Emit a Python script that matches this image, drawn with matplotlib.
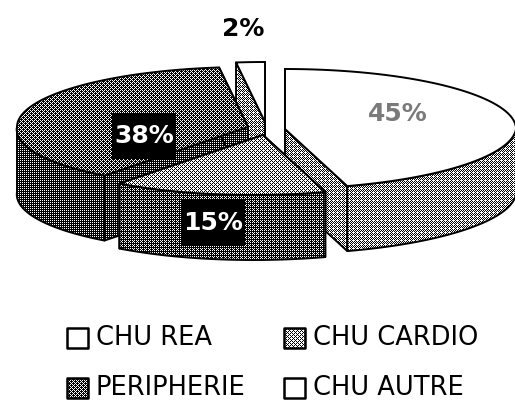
import numpy as np
import matplotlib
matplotlib.use("Agg")
import matplotlib.pyplot as plt
from matplotlib.patches import Polygon, Rectangle

labels = ["CHU REA", "CHU CARDIO", "PERIPHERIE", "CHU AUTRE"]
values = [45, 15, 38, 2]

RX, RY, DEPTH = 231, 60, 65
SKEW = 0.16  # la perspective tire l'avant de la tarte vers la gauche
# sommet de chaque part, en pixels (parts eclatees)
apex = {"CHU REA": (285, 129), "CHU CARDIO": (263, 135),
        "PERIPHERIE": (248, 127), "CHU AUTRE": (265, 122)}
top_grey = {"CHU REA": 1.0, "CHU CARDIO": 0.6, "PERIPHERIE": 0.35, "CHU AUTRE": 1.0}
side_grey = {"CHU REA": 0.55, "CHU CARDIO": 0.33, "PERIPHERIE": 0.28, "CHU AUTRE": 0.55}
label_pos = {"CHU REA": (398, 114), "CHU CARDIO": (213, 223),
             "PERIPHERIE": (144, 136), "CHU AUTRE": (243, 29)}
W, H = 515, 401

bayer = np.array([[0, 8, 2, 10], [12, 4, 14, 6], [3, 11, 1, 9], [15, 7, 13, 5]]) / 16 + 1 / 32
yy, xx = np.indices((H, W))
thresh = bayer[yy % 4, xx % 4]

fig = plt.figure(figsize=(W / 100, H / 100), dpi=100)
ax = fig.add_axes([0, 0, 1, 1])
ax.axis("off")

z = [1]


def fill(points, grey, lw=1.4):
    # polygone trame (dither) + contour noir
    z[0] += 2
    if grey < 1:
        under = Polygon(points, closed=True, fc="none", ec="none")
        ax.add_patch(under)
        im = ax.imshow((thresh < grey).astype(float), cmap="gray", vmin=0, vmax=1, extent=(0, W, H, 0),
                       interpolation="nearest", zorder=z[0], aspect="auto")
        im.set_clip_path(under)
    else:
        ax.add_patch(Polygon(points, closed=True, fc="white", ec="none", zorder=z[0]))
    ax.add_patch(Polygon(points, closed=True, fc="none", ec="black", lw=lw, zorder=z[0] + 1, joinstyle="round"))


def ellipse(cx, cy, t):
    c = np.cos(t)
    x = cx + RX * np.sin(t) + SKEW * RY * np.minimum(c, 0)
    return np.column_stack([x, cy - RY * c])


def draw_slice(name, a0, a1):
    cx, cy = apex[name]
    arc = ellipse(cx, cy, np.radians(np.linspace(a0, a1, 120)))
    c = np.array([cx, cy])
    d = np.array([0, DEPTH])
    sg = side_grey[name]
    # faces radiales
    fill([c, arc[0], arc[0] + d, c + d], sg)
    fill([c, arc[-1], arc[-1] + d, c + d], sg)
    # face exterieure, partie avant seulement
    if a1 > 90 and a0 < 270:
        front = ellipse(cx, cy, np.radians(np.linspace(max(a0, 90), min(a1, 270), 120)))
        fill(np.vstack([front, front[::-1] + d]), sg)
    fill(np.vstack([c, arc]), top_grey[name])


ends = np.cumsum(values) * 3.6
starts = ends - np.array(values) * 3.6
angles = {n: (s, e) for n, s, e in zip(labels, starts, ends)}
for name in ["CHU AUTRE", "PERIPHERIE", "CHU REA", "CHU CARDIO"]:
    draw_slice(name, *angles[name])

for name, v in zip(labels, values):
    x, y = label_pos[name]
    if name in ("CHU CARDIO", "PERIPHERIE"):
        ax.add_patch(Rectangle((x - 32, y - 23), 64, 46, fc="black", ec="none", zorder=900))
        col = "white"
    elif name == "CHU REA":
        col = "#7a7a7a"
    else:
        col = "black"
    ax.text(x, y, f"{v}%", color=col, fontsize=18, fontweight="bold", ha="center", va="center", zorder=950)

# legende
leg_x = [67, 284]
leg_y = [338, 388]
z[0] = 1000
for i, name in enumerate(labels):
    x = leg_x[i % 2]
    y = leg_y[i // 2]
    fill([(x, y - 10), (x + 21, y - 10), (x + 21, y + 10), (x, y + 10)], top_grey[name], lw=1.8)
    ax.text(x + 29, y, name, fontsize=18.5, ha="left", va="center", color="black", zorder=1100)

ax.set_xlim(0, W)
ax.set_ylim(H, 0)
fig.savefig("out.png", dpi=100, facecolor="white")
